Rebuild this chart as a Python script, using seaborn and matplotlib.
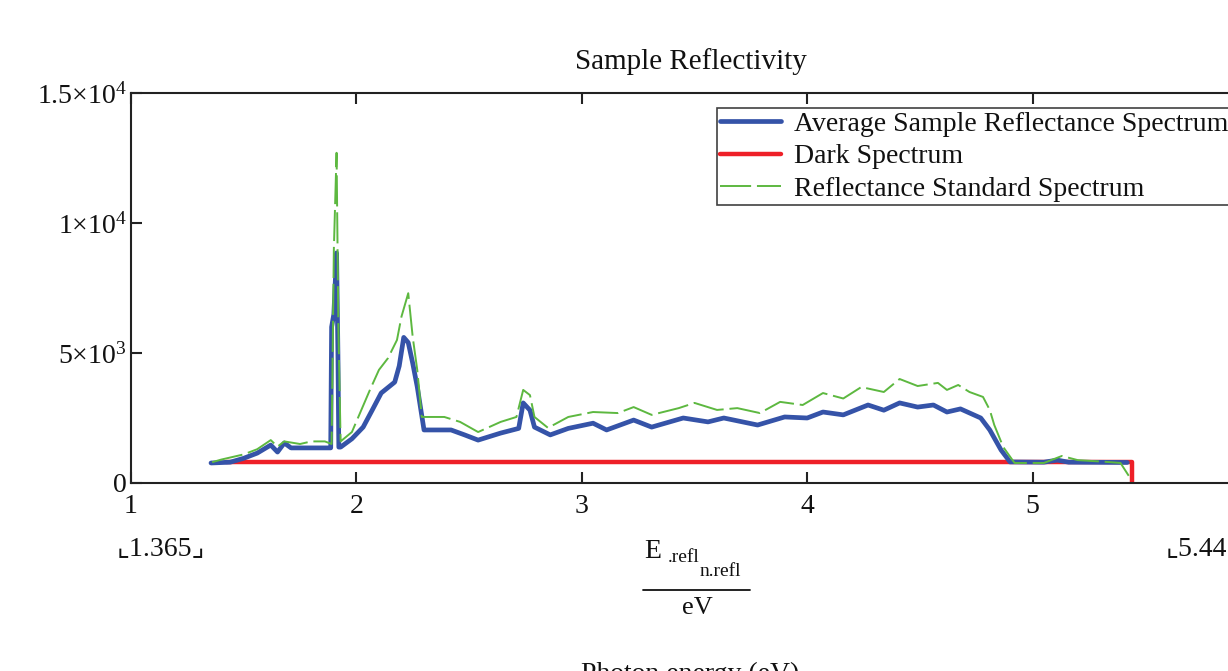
import matplotlib
matplotlib.use("Agg")
import matplotlib.pyplot as plt
import seaborn as sns
import pandas as pd
from matplotlib.lines import Line2D

# ---------------- data ----------------
sample_x = [1.355, 1.44, 1.50, 1.56, 1.62, 1.65, 1.68, 1.71, 1.80, 1.886, 1.89, 1.90, 1.912, 1.918,
            1.922, 1.93, 1.98, 2.03, 2.07, 2.11, 2.17, 2.19, 2.21, 2.23, 2.25, 2.27, 2.30, 2.42,
            2.48, 2.54, 2.64, 2.72, 2.74, 2.77, 2.79, 2.86, 2.94, 3.05, 3.11, 3.23, 3.31, 3.45,
            3.56, 3.63, 3.78, 3.90, 4.00, 4.07, 4.16, 4.27, 4.34, 4.41, 4.49, 4.56, 4.62, 4.68,
            4.77, 4.81, 4.86, 4.90, 5.05, 5.11, 5.16, 5.42]
sample_y = [770, 800, 950, 1150, 1460, 1190, 1540, 1350, 1350, 1350, 6000, 6500, 8850, 5000,
            1380, 1380, 1700, 2150, 2800, 3460, 3880, 4500, 5600, 5400, 4600, 3700, 2040, 2040,
            1850, 1650, 1920, 2100, 3080, 2800, 2150, 1850, 2100, 2300, 2040, 2420, 2150, 2500,
            2350, 2500, 2230, 2540, 2500, 2730, 2620, 3000, 2800, 3080, 2920, 3000, 2730, 2850,
            2500, 2040, 1270, 810, 800, 880, 800, 790]

dark_x = [1.42, 5.44, 5.44]
dark_y = [790, 790, 0]

std_x = [1.36, 1.40, 1.50, 1.56, 1.62, 1.65, 1.68, 1.75, 1.80, 1.86, 1.89, 1.90, 1.912, 1.92,
         1.93, 1.98, 2.06, 2.10, 2.14, 2.18, 2.20, 2.23, 2.25, 2.27, 2.29, 2.39, 2.46, 2.54,
         2.64, 2.71, 2.74, 2.77, 2.79, 2.85, 2.94, 3.05, 3.16, 3.23, 3.31, 3.43, 3.50, 3.60,
         3.69, 3.79, 3.88, 3.98, 4.07, 4.16, 4.24, 4.34, 4.41, 4.49, 4.58, 4.62, 4.67, 4.72,
         4.78, 4.81, 4.83, 4.87, 4.92, 5.05, 5.13, 5.20, 5.33, 5.39, 5.43]
std_y = [800, 900, 1100, 1300, 1650, 1400, 1600, 1500, 1600, 1600, 1500, 9000, 12700, 6000,
         1600, 1960, 3580, 4350, 4800, 5500, 6400, 7300, 5600, 4350, 2540, 2540, 2350, 1960,
         2350, 2540, 3580, 3380, 2540, 2120, 2540, 2730, 2690, 2920, 2620, 2880, 3080, 2810,
         2880, 2690, 3120, 3000, 3460, 3250, 3690, 3500, 4000, 3730, 3850, 3580, 3770, 3500,
         3310, 2810, 2230, 1380, 770, 770, 1040, 880, 810, 770, 230]

x_ticks = [1, 2, 3, 4, 5]
x_tick_labels = ["1", "2", "3", "4", "5"]
y_ticks = [0, 5000, 10000, 15000]
y_tick_labels = ["0", r"$\mathrm{5{\times}10^{3}}$", r"$\mathrm{1{\times}10^{4}}$",
                 r"$\mathrm{1.5{\times}10^{4}}$"]

labels = ["Average Sample Reflectance Spectrum", "Dark Spectrum", "Reflectance Standard Spectrum"]
title = "Sample Reflectivity"

# ---------------- style ----------------
sns.set_theme(style="white")
plt.rcParams["font.family"] = ["Liberation Serif", "DejaVu Serif", "DejaVu Sans"]
plt.rcParams["mathtext.fontset"] = "custom"
plt.rcParams["mathtext.rm"] = "Liberation Serif"
plt.rcParams["mathtext.it"] = "Liberation Serif:italic"
plt.rcParams["mathtext.bf"] = "Liberation Serif:bold"

W, H = 1228, 671
fig = plt.figure(figsize=(W / 100, H / 100), dpi=100)
fig.patch.set_facecolor("white")

x0, x6 = 131, 1258
y0, y15 = 483, 93
ax = fig.add_axes([x0 / W, 1 - y0 / H, (x6 - x0) / W, (y0 - y15) / H])
ax.set_facecolor("white")

df_s = pd.DataFrame({"x": sample_x, "y": sample_y})
df_d = pd.DataFrame({"x": dark_x, "y": dark_y})
df_r = pd.DataFrame({"x": std_x, "y": std_y})

sns.lineplot(data=df_s, x="x", y="y", ax=ax, color="#3553A8", lw=3.4, sort=False,
             estimator=None, label=labels[0], zorder=3)
sns.lineplot(data=df_d, x="x", y="y", ax=ax, color="#EE2028", lw=3.2, sort=False,
             estimator=None, label=labels[1], zorder=2)
sns.lineplot(data=df_r, x="x", y="y", ax=ax, color="#5DB840", lw=1.4, sort=False,
             estimator=None, label=labels[2], zorder=4, linestyle=(0, (16, 3)))

ax.set_xlim(1, 6)
ax.set_ylim(0, 15000)
ax.set_xticks(x_ticks)
ax.set_xticklabels(x_tick_labels)
ax.set_yticks(y_ticks)
ax.set_yticklabels(y_tick_labels)
ax.set_xlabel("")
ax.set_ylabel("")

for s in ax.spines.values():
    s.set_color("#222222")
    s.set_linewidth(1.5)
    s.set_visible(True)

ax.tick_params(axis="both", which="major", direction="in", length=8, width=1.5,
               color="#222222", labelsize=20, labelcolor="#111111")
ax.tick_params(axis="x", top=True, bottom=True, pad=8)
ax.tick_params(axis="y", left=True, right=True, pad=3)
ax.grid(False)

# legend
leg = ax.legend(loc="upper left", bbox_to_anchor=(717 / W, 1 - 108 / H),
                bbox_transform=fig.transFigure, frameon=True, fancybox=False,
                shadow=False, fontsize=20, handlelength=2.2, handletextpad=0.45,
                labelspacing=0.26, borderpad=0.12, borderaxespad=0)
leg.get_frame().set_edgecolor("#111111")
leg.get_frame().set_linewidth(1.2)
for t in leg.get_texts():
    t.set_color("#111111")

# title
fig.text(691 / W, 1 - 62 / H, title, ha="center", va="center", fontsize=21, color="#111111")

# Mathcad-style bottom annotations
fig.text(161 / W, 1 - 549 / H, "⌞1.365⌟", ha="center", va="center", fontsize=20,
         color="#111111", family=["Liberation Serif", "DejaVu Sans"])
fig.text(1227 / W, 1 - 549 / H, "⌞5.44", ha="right", va="center", fontsize=20,
         color="#111111", family=["Liberation Serif", "DejaVu Sans"])
fig.text(644 / W, 1 - 551 / H, "E", ha="left", va="center", fontsize=20, color="#111111")
fig.text(668 / W, 1 - 558 / H, ".refl", ha="left", va="center", fontsize=14, color="#111111")
fig.text(700 / W, 1 - 571 / H, "n.refl", ha="left", va="center", fontsize=14, color="#111111")
fig.add_artist(Line2D([643 / W, 750 / W], [1 - 590 / H, 1 - 590 / H], color="#111111",
                      lw=1.3, transform=fig.transFigure))
fig.text(697 / W, 1 - 608 / H, "eV", ha="center", va="center", fontsize=19, color="#111111")
fig.text(690 / W, 1 - 674 / H, "Photon energy (eV)", ha="center", va="center", fontsize=20,
         color="#111111")

fig.savefig("out.png", dpi=100, facecolor="white")
